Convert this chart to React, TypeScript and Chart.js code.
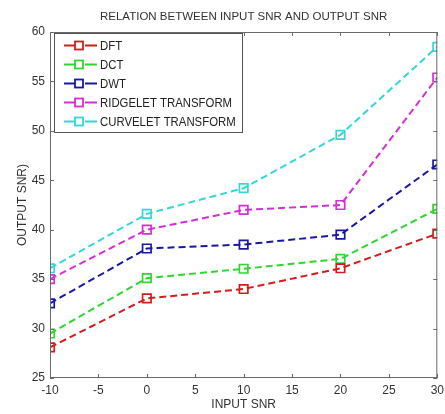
import React, { useEffect, useRef } from "react";
import { Chart, registerables } from "chart.js";

Chart.register(...registerables);

const inputSnr = [-10, 0, 10, 20, 30];
const dft = [28.1, 33.05, 34.0, 36.1, 39.6];
const dct = [29.5, 35.1, 36.05, 37.05, 42.1];
const dwt = [32.55, 38.1, 38.5, 39.5, 46.6];
const ridgelet = [35.0, 40.0, 42.0, 42.5, 55.4];
const curvelet = [36.1, 41.6, 44.2, 49.6, 58.5];
const seriesNames = ["DFT", "DCT", "DWT", "RIDGELET TRANSFORM", "CURVELET TRANSFORM"];
const seriesColors = ["#d41c1c", "#2ed62e", "#1818a4", "#d42ed4", "#34d6d6"];
const titleText = "RELATION BETWEEN INPUT SNR AND OUTPUT SNR";
const xTitle = "INPUT SNR";
const yTitle = "OUTPUT SNR)";

const FONT = "'Liberation Sans', Arial, sans-serif";

const boxPlugin = {
  id: "matlabBox",
  afterDraw(chart: any) {
    const { ctx, chartArea } = chart;
    const { left, right, top, bottom } = chartArea;
    const xs = chart.scales.x;
    const ys = chart.scales.y;
    ctx.save();
    ctx.strokeStyle = "#6a6a6a";
    ctx.lineWidth = 1;
    ctx.strokeRect(left + 0.5, top + 0.5, right - left - 1, bottom - top - 1);
    const tl = 4;
    ctx.beginPath();
    xs.ticks.forEach((t: any) => {
      const px = Math.round(xs.getPixelForValue(t.value)) + 0.5;
      ctx.moveTo(px, bottom);
      ctx.lineTo(px, bottom - tl);
      ctx.moveTo(px, top);
      ctx.lineTo(px, top + tl);
    });
    ys.ticks.forEach((t: any) => {
      const py = Math.round(ys.getPixelForValue(t.value)) + 0.5;
      ctx.moveTo(left, py);
      ctx.lineTo(left + tl, py);
      ctx.moveTo(right, py);
      ctx.lineTo(right - tl, py);
    });
    ctx.stroke();

    // legend box inside the plot
    const lx = left + 4;
    const ly = top + 1;
    const lw = 189;
    const lh = 100;
    ctx.fillStyle = "#ffffff";
    ctx.fillRect(lx, ly, lw, lh);
    ctx.strokeStyle = "#555555";
    ctx.strokeRect(lx + 0.5, ly + 0.5, lw - 1, lh - 1);
    chart.data.datasets.forEach((ds: any, i: number) => {
      const cy = ly + 12.5 + i * 19;
      ctx.strokeStyle = ds.borderColor;
      ctx.lineWidth = 1.8;
      ctx.setLineDash([]);
      ctx.beginPath();
      ctx.moveTo(lx + 10, cy);
      ctx.lineTo(lx + 21, cy);
      ctx.moveTo(lx + 31, cy);
      ctx.lineTo(lx + 43, cy);
      ctx.stroke();
      ctx.strokeRect(lx + 21, cy - 4, 8, 8);
      ctx.save();
      ctx.fillStyle = "#222222";
      ctx.font = `13px ${FONT}`;
      ctx.textBaseline = "middle";
      ctx.textAlign = "left";
      ctx.translate(lx + 46, cy + 0.5);
      ctx.scale(0.875, 1);
      ctx.fillText(ds.label, 0, 0);
      ctx.restore();
    });
    ctx.restore();
  },
};

export default function App() {
  const ref = useRef<HTMLCanvasElement | null>(null);
  useEffect(() => {
    if (!ref.current) return;
    const series = [dft, dct, dwt, ridgelet, curvelet];
    const chart = new Chart(ref.current, {
      type: "line",
      data: {
        datasets: series.map((vals, i) => ({
          label: seriesNames[i],
          data: vals.map((v, j) => ({ x: inputSnr[j], y: v })),
          borderColor: seriesColors[i],
          backgroundColor: "rgba(0,0,0,0)",
          borderWidth: 2,
          borderDash: [7, 4],
          pointStyle: "rect",
          pointRadius: 6,
          pointBorderWidth: 1.7,
          pointBackgroundColor: "rgba(0,0,0,0)",
          pointBorderColor: seriesColors[i],
          tension: 0,
          fill: false,
        })),
      },
      options: {
        responsive: false,
        animation: false,
        layout: { padding: { left: 0, right: 7, top: 0, bottom: 0 } },
        plugins: {
          legend: { display: false },
          tooltip: { enabled: false },
          title: {
            display: true,
            text: titleText,
            fullSize: false,
            color: "#333333",
            font: { family: FONT, size: 11.5, lineHeight: 1.2, weight: "normal" },
            padding: { top: 10, bottom: 8.2 },
          },
        },
        scales: {
          x: {
            type: "linear",
            min: -10,
            max: 30,
            grid: { display: false, drawTicks: false },
            border: { display: false },
            ticks: {
              stepSize: 5,
              padding: 5,
              color: "#333333",
              font: { family: FONT, size: 12 },
            },
            title: {
              display: true,
              text: xTitle,
              color: "#333333",
              font: { family: FONT, size: 12 },
              padding: { top: 0, bottom: 2 },
            },
            afterFit: (s: any) => {
              s.height = 36;
              s.paddingLeft = 0;
              s.paddingRight = 0;
            },
          },
          y: {
            type: "linear",
            min: 25,
            max: 60,
            grid: { display: false, drawTicks: false },
            border: { display: false },
            ticks: {
              stepSize: 5,
              padding: 5,
              color: "#333333",
              font: { family: FONT, size: 12 },
            },
            title: {
              display: true,
              text: yTitle,
              color: "#333333",
              font: { family: FONT, size: 12 },
              padding: { top: 15, bottom: 0 },
            },
            afterFit: (s: any) => {
              s.width = 50;
              s.paddingTop = 0;
              s.paddingBottom = 0;
            },
          },
        },
      },
      plugins: [boxPlugin],
    } as any);
    return () => chart.destroy();
  }, []);
  return (
    <div style={{ position: "absolute", left: 0, top: 0, width: 445, height: 414, background: "#ffffff" }}>
      <canvas ref={ref} width={445} height={414} />
    </div>
  );
}
